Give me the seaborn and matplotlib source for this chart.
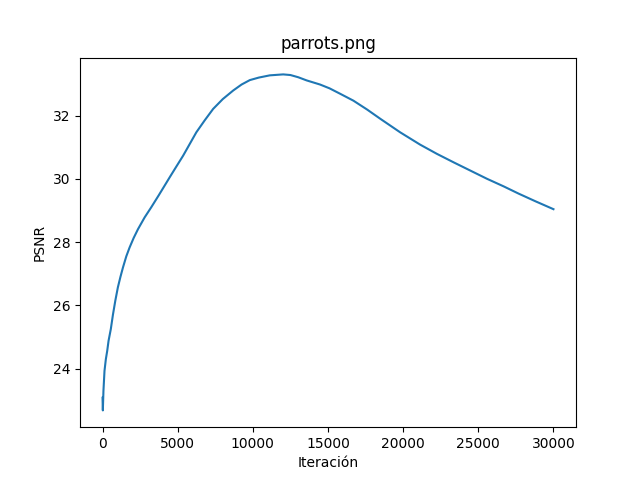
import numpy as np
import pandas as pd
import matplotlib
matplotlib.use('Agg')
import matplotlib.pyplot as plt
import seaborn as sns

# PSNR per iteration
iteraciones = [0, 20, 60, 130, 220, 310, 400, 550, 690, 850, 1020, 1190, 1360,
               1580, 1800, 2070, 2360, 2800, 3240, 3740, 4240, 4470, 4900,
               5360, 5800, 6240, 6800, 7360, 8000, 8690, 9250, 9800, 10400,
               11130, 12020, 12500, 13020, 13580, 14470, 15100, 15800, 16690,
               17600, 18470, 19800, 21130, 22240, 23360, 24470, 25580, 26690,
               27690, 28800, 30000]
psnr = [23.08, 22.68, 23.30, 23.93, 24.30, 24.56, 24.88, 25.25, 25.70, 26.15,
        26.57, 26.90, 27.20, 27.55, 27.83, 28.13, 28.41, 28.78, 29.10, 29.48,
        29.87, 30.05, 30.38, 30.73, 31.10, 31.47, 31.85, 32.21, 32.52, 32.79,
        32.98, 33.12, 33.20, 33.27, 33.30, 33.28, 33.21, 33.11, 32.98, 32.86,
        32.69, 32.47, 32.19, 31.90, 31.47, 31.08, 30.79, 30.52, 30.26, 30.00,
        29.76, 29.53, 29.29, 29.04]

df = pd.DataFrame({'Iteración': iteraciones, 'PSNR': psnr})

fig, ax = plt.subplots(figsize=(6.4, 4.8), dpi=100)
sns.lineplot(data=df, x='Iteración', y='PSNR', ax=ax, color='C0', linewidth=1.5)
ax.set_title('parrots.png')
ax.set_xlabel('Iteración')
ax.set_ylabel('PSNR')
fig.savefig('out.png', dpi=100)
